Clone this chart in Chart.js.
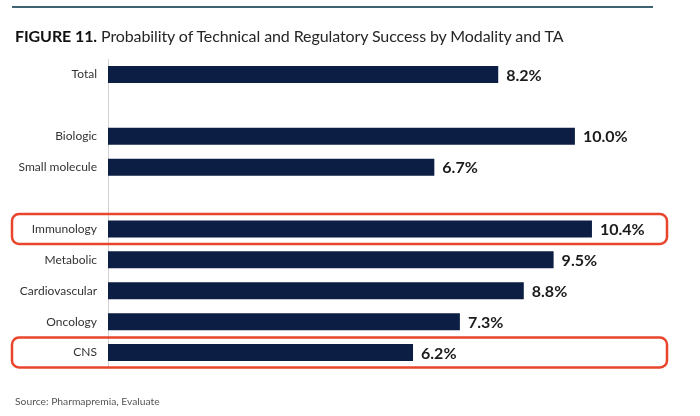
<!DOCTYPE html>
<html>
<head>
<meta charset="utf-8">
<script src="https://cdn.jsdelivr.net/npm/chart.js@4.4.1/dist/chart.umd.min.js"></script>
<style>
  html, body { margin: 0; padding: 0; background: #ffffff; }
  #page { position: relative; width: 700px; height: 416px; overflow: hidden; background: #fff; }
  #rule { position: absolute; left: 12px; top: 6px; width: 641px; height: 2px; background: #3e6373; }
  #title { position: absolute; left: 15px; top: 26px; font-family: Lato, "Open Sans", sans-serif; font-size: 16px; color: #262626; white-space: nowrap; letter-spacing: -0.1px; }
  #title b { font-weight: 700; color: #111; }
  #source { position: absolute; left: 15px; top: 395px; font-family: Lato, sans-serif; font-size: 10.3px; color: #555; white-space: nowrap; }
  #wrap { position: absolute; left: 0; top: 0; width: 700px; height: 416px; }
</style>
</head>
<body>
<div id="page">
  <div id="wrap"><canvas id="c"></canvas></div>
  <div id="rule"></div>
  <div id="title"><b>FIGURE 11.</b> Probability of Technical and Regulatory Success by Modality and TA</div>
  <div id="source">Source: Pharmapremia, Evaluate</div>
</div>
<script>
// ---- data ----
const categories = ['Total', '', 'Biologic', 'Small molecule', '', 'Immunology', 'Metabolic', 'Cardiovascular', 'Oncology', 'CNS'];
const successRates = [8.2, null, 10.0, 6.7, null, 10.4, 9.5, 8.8, 7.3, 6.2];
const highlighted = ['Immunology', 'CNS'];
const axisMin = -0.96;
const axisMax = 11.88;

const BAR_COLOR = '#0d1e44';
const BOX_COLOR = '#e8452c';

const valueLabels = {
  id: 'valueLabels',
  afterDatasetsDraw(chart) {
    const ctx = chart.ctx;
    const meta = chart.getDatasetMeta(0);
    ctx.save();
    ctx.font = 'bold 16px Lato, "Open Sans", sans-serif';
    ctx.fillStyle = '#1b1b1b';
    ctx.textAlign = 'left';
    ctx.textBaseline = 'middle';
    meta.data.forEach((bar, i) => {
      const v = successRates[i];
      if (v === null || v === undefined) return;
      ctx.fillText(v.toFixed(1) + '%', bar.x + 8, bar.y + 1);
    });
    ctx.restore();
  }
};

const highlightBoxes = {
  id: 'highlightBoxes',
  afterDatasetsDraw(chart) {
    const ctx = chart.ctx;
    const yScale = chart.scales.y;
    const half = yScale.height / categories.length / 2;
    ctx.save();
    ctx.strokeStyle = BOX_COLOR;
    ctx.lineWidth = 2.5;
    highlighted.forEach(name => {
      const idx = categories.indexOf(name);
      if (idx < 0) return;
      const yc = yScale.getPixelForValue(idx);
      const x0 = 12, x1 = chart.chartArea.right + 12;
      const y0 = yc - half + 0.5, y1 = yc + half - 0.5;
      ctx.beginPath();
      ctx.roundRect(x0, y0, x1 - x0, y1 - y0, 7);
      ctx.stroke();
    });
    ctx.restore();
  }
};

new Chart(document.getElementById('c'), {
  type: 'bar',
  data: {
    labels: categories,
    datasets: [{
      data: successRates,
      base: axisMin,
      backgroundColor: BAR_COLOR,
      borderWidth: 0,
      categoryPercentage: 1,
      barPercentage: 0.55
    }]
  },
  options: {
    indexAxis: 'y',
    responsive: true,
    maintainAspectRatio: false,
    animation: false,
    layout: { padding: { top: 59, bottom: 48, left: 0, right: 45 } },
    plugins: { legend: { display: false }, tooltip: { enabled: false }, title: { display: false } },
    scales: {
      x: { display: false, min: axisMin, max: axisMax },
      y: {
        grid: { display: false, drawTicks: false },
        border: { display: true, color: '#d2d2d2', width: 1 },
        ticks: {
          padding: 11,
          color: '#333333',
          font: { family: 'Lato, "Open Sans", sans-serif', size: 12 }
        },
        afterFit(scale) { scale.width = 108; }
      }
    }
  },
  plugins: [valueLabels, highlightBoxes]
});
</script>
</body>
</html>
